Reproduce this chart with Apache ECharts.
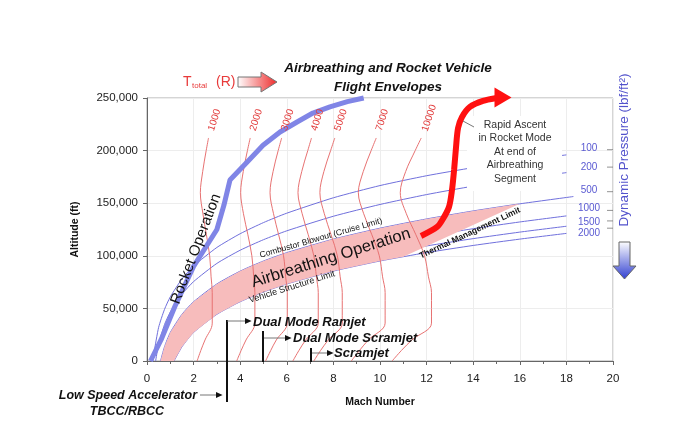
<!DOCTYPE html>
<html><head><meta charset="utf-8">
<script src="https://cdn.jsdelivr.net/npm/echarts@6/dist/echarts.min.js"></script>
<style>html,body{margin:0;padding:0;background:#fff}#c{width:695px;height:433px}</style>
</head><body><div id="c"></div>
<script>
// ---------------- DATA ----------------
// Dynamic pressure lines (lbf/ft^2): [Mach, altitude ft]
const qLabels = ['100','200','500','1000','1500','2000'];
const q100  = [[0.26,0],[0.3,7720],[0.5,32060],[0.75,49020],[1,61000],[1.5,77960],[2,90260],[3,107940],[4,121000],[5,131590],[6,140520],[8,155160],[10,166760],[12,176110],[14,183820],[16,190320],[18,195930]];
const q200  = [[0.37,0],[0.5,16080],[0.75,34570],[1,46570],[1.5,63450],[2,75490],[3,92780],[4,105310],[5,115320],[6,123750],[8,137600],[10,148790],[12,158210],[14,166230],[16,173110],[18,179060]];
const q500  = [[0.58,0],[0.75,13470],[1,27140],[1.5,44370],[2,56350],[3,73260],[4,85470],[5,95070],[6,103010],[8,115860],[10,126260],[12,135040],[14,142650],[16,149400],[18.3,156330]];
const q1000 = [[0.82,0],[1,10480],[1.5,29770],[2,41920],[3,58810],[4,70810],[5,80200],[6,87990],[8,100430],[10,110280],[12,118550],[14,125770],[16,132170],[18,137920]];
const q1500 = [[1.01,0],[1.5,20490],[2,33440],[3,50370],[4,62340],[5,71640],[6,79330],[8,91630],[10,101320],[12,109370],[14,116320],[16,122520],[18,128090]];
const q2000 = [[1.16,0],[1.5,13460],[2,27140],[3,44370],[4,56350],[5,65630],[6,73260],[8,85470],[10,95070],[12,103010],[14,109840],[16,115860],[18,121300]];
// altitude where each q line meets Mach 20 (right-axis ticks)
const qEdgeAlt = [200860,184310,160950,143150,133160,126260];
// thermal management limit (closes the airbreathing corridor)
const thermalLimit = [[16,149400],[11,99100]];

// Total temperature isotherms (R): Mach at common altitudes
const isoLabels = ['1000','2000','3000','4000','5000','7000','10000'];
const isoAlt  = [0,10000,20000,36000,65000,80000,100000,120000,140000,160000,180000,200000,212000];
const iso1000 = [2.15,2.31,2.49,2.80,2.80,2.75,2.69,2.55,2.40,2.29,2.39,2.54,2.64];
const iso2000 = [3.85,4.04,4.25,4.63,4.63,4.58,4.50,4.33,4.14,4.02,4.13,4.31,4.43];
const iso3000 = [5.09,5.31,5.55,6.02,6.02,5.95,5.86,5.65,5.43,5.28,5.41,5.63,5.78];
const iso4000 = [6.26,6.52,6.81,7.35,7.35,7.27,7.16,6.92,6.66,6.48,6.64,6.90,7.06];
const iso5000 = [7.16,7.45,7.78,8.38,8.38,8.29,8.17,7.90,7.61,7.42,7.59,7.88,8.06];
const iso7000 = [8.77,9.12,9.50,10.22,10.22,10.11,9.97,9.65,9.30,9.07,9.28,9.62,9.84];
const iso10000= [10.52,10.92,11.37,12.21,12.21,12.08,11.91,11.54,11.13,10.87,11.10,11.51,11.77];

// Rocket operation boundary
const rocketMach = [0.15,0.6,1.2,2.0,3.0,3.3,3.56,4.29,4.98,5.71,6.44,7.12,7.85,8.6,9.3];
const rocketAlt  = [0,20000,52000,90000,125000,148000,172000,189000,205000,217700,227200,235700,241500,246500,250000];

// Rapid ascent path (red arrow)
const ascentMach = [11.76,12.45,12.70,12.96,13.09,13.18,13.26,13.35,13.52,13.86,14.42,15.02,15.28];
const ascentAlt  = [118800,127400,135000,146400,162600,181600,202500,221500,232000,241500,247200,250000,250500];

// ---------------- CHART ----------------
const FF = '"Liberation Sans", Arial, sans-serif';
const chart = echarts.init(document.getElementById('c'), null, {renderer:'canvas'});
const fmt = v => String(v).replace(/\B(?=(\d{3})+(?!\d))/g, ',');
const zip = (xs, ys) => xs.map((x,i)=>[x, ys[i]]);

const qSets = [q100,q200,q500,q1000,q1500,q2000];
const isoSets = [iso1000,iso2000,iso3000,iso4000,iso5000,iso7000,iso10000];

const bandPoly = q500.filter(p=>p[0]<=16).concat(thermalLimit, q2000.filter(p=>p[0]<11).reverse());

const series = [];
qSets.forEach((d,i)=>series.push({
  type:'line', name:'q'+qLabels[i], data:d, smooth:0.2, showSymbol:false, silent:true,
  lineStyle:{color:'#7070dc', width:1}, z:1
}));
series.push({
  type:'custom', name:'band', data:[[0,0]], z:2, silent:true,
  renderItem:(params, api)=>({type:'polygon', shape:{points: bandPoly.map(p=>api.coord(p))}, style:{fill:'#f7bcbc'}})
});
isoSets.forEach((m,i)=>series.push({
  type:'line', name:'T'+isoLabels[i], data:zip(m, isoAlt), smooth:0.35, showSymbol:false, silent:true,
  lineStyle:{color:'#e77272', width:1}, z:3
}));
series.push({
  type:'line', name:'rocket', data:zip(rocketMach, rocketAlt), showSymbol:false, clip:false, silent:true,
  lineStyle:{color:'#8085e6', width:5}, z:4
});
const ascentData = zip(ascentMach, ascentAlt).map((p,i,a)=> i===a.length-1 ? {value:p, symbol:'triangle', symbolSize:[20,17], symbolRotate:-90, itemStyle:{color:'#ff1010'}} : {value:p});
series.push({
  type:'line', name:'ascent', data:ascentData, smooth:0.3, symbol:'none', showSymbol:true, showAllSymbol:true, clip:false, silent:true,
  lineStyle:{color:'#ff1010', width:6}, z:5
});
series.push({
  type:'scatter', name:'qTicks', data:qEdgeAlt.map(a=>[20,a]), symbol:'rect', symbolSize:[6,1], symbolOffset:[-3,0],
  itemStyle:{color:'#777'}, clip:false, silent:true, z:6
});

chart.setOption({
  animation:false,
  backgroundColor:'#fff',
  textStyle:{fontFamily:FF},
  grid:{left:147, right:82, top:98, bottom:72, show:true, borderColor:'#aaa', borderWidth:1, backgroundColor:'transparent'},
  xAxis:{type:'value', min:0, max:20, interval:2,
    axisLine:{lineStyle:{color:'#666'}}, axisTick:{show:true, length:4, lineStyle:{color:'#666'}},
    minorTick:{show:true, splitNumber:2, length:3, lineStyle:{color:'#666'}},
    splitLine:{show:true, lineStyle:{color:'#ededed'}},
    axisLabel:{color:'#222', fontSize:11.5, margin:12, fontFamily:FF},
    name:'Mach Number', nameLocation:'middle', nameGap:36,
    nameTextStyle:{fontWeight:'bold', fontSize:10.5, color:'#111', fontFamily:FF}},
  yAxis:{type:'value', min:0, max:250000, interval:50000,
    axisLine:{show:true, lineStyle:{color:'#666'}}, axisTick:{show:true, length:4, lineStyle:{color:'#666'}},
    splitLine:{show:true, lineStyle:{color:'#ededed'}},
    axisLabel:{color:'#222', fontSize:11.5, margin:9, formatter:fmt, fontFamily:FF},
    name:'Altitude (ft)', nameLocation:'middle', nameGap:66, nameRotate:90,
    nameTextStyle:{fontWeight:'bold', fontSize:10.5, color:'#111', fontFamily:FF}},
  series
});

// ---------------- ANNOTATIONS ----------------
const G = [];
const txt = (x,y,text,font,fill,opt={}) => G.push({type:'text', x, y, z:100, rotation:opt.rot||0,
  style:{text, font, fill, align:opt.align||'center', verticalAlign:'middle', textAlign:opt.align||'center', textVerticalAlign:'middle'}});
const line = (x1,y1,x2,y2,color,w) => G.push({type:'line', z:100, shape:{x1,y1,x2,y2}, style:{stroke:color, lineWidth:w}});
const head = (x,y,s) => G.push({type:'polygon', z:100, shape:{points:[[x,y-s/2],[x+s*1.1,y],[x,y+s/2]]}, style:{fill:'#111'}});
const deg = d => d*Math.PI/180;

// title
txt(388,68,'Airbreathing and Rocket Vehicle','italic bold 13.5px '+FF,'#111');
txt(388,87,'Flight Envelopes','italic bold 13.5px '+FF,'#111');
// T_total (R)
txt(183,82,'T','14px '+FF,'#e83a3a',{align:'left'});
txt(192,86,'total','8px '+FF,'#e83a3a',{align:'left'});
txt(216,82,'(R)','14px '+FF,'#e83a3a',{align:'left'});
G.push({type:'polygon', z:100, shape:{points:[[238,77],[261,77],[261,72],[277,82],[261,92],[261,87],[238,87]]},
  style:{stroke:'#777', lineWidth:1, fill:new echarts.graphic.LinearGradient(0,0,1,0,[{offset:0,color:'#ffffff'},{offset:1,color:'#ee2a2a'}])}});

// dynamic pressure axis
txt(624,150,'Dynamic Pressure (lbf/ft\u00B2)','13.5px '+FF,'#5252cc',{rot:deg(90)});
G.push({type:'polygon', z:100, shape:{points:[[619,242],[630,242],[630,266],[636,266],[624.5,279],[613,266],[619,266]]},
  style:{stroke:'#666', lineWidth:1, fill:new echarts.graphic.LinearGradient(0,0,0,1,[{offset:0,color:'#ffffff'},{offset:1,color:'#2f3ed0'}])}});
const qLabelY = [148,167,190,208,222,233];
qLabels.forEach((t,i)=>txt(589,qLabelY[i],t,'10px '+FF,'#5a5ad2'));

// Rapid ascent box
G.push({type:'rect', z:99, shape:{x:467,y:116,width:95,height:75}, style:{fill:'#fff'}});
['Rapid Ascent','in Rocket Mode','At end of','Airbreathing','Segment'].forEach((t,i)=>txt(515,125+i*13.5,t,'10.5px '+FF,'#333'));
line(474,127,463,121,'#777',1);

// region labels
txt(196,249,'Rocket Operation','15px '+FF,'#111',{rot:deg(69)});
txt(331,258,'Airbreathing Operation','16.5px '+FF,'#111',{rot:deg(17.5)});
txt(321,238,'Combustor Blowout (Cruise Limit)','8.5px '+FF,'#111',{rot:deg(16)});
txt(292,287,'Vehicle Structure Limit','9px '+FF,'#111',{rot:deg(17.5)});
txt(470,233,'Thermal Management Limit','bold 8.5px '+FF,'#111',{rot:deg(25)});

// propulsion mode annotations
line(227,320,227,402,'#111',2);
line(263,331,263,362,'#111',2);
line(311,348,311,362,'#111',2);
line(227,321,245,321,'#777',1); head(245,321,6);
line(264,338,285,338,'#777',1); head(285,338,6);
line(312,353,327,353,'#777',1); head(327,353,6);
line(200,395,216,395,'#777',1); head(216,395,6);
txt(253,322,'Dual Mode Ramjet','italic bold 13px '+FF,'#111',{align:'left'});
txt(293,338,'Dual Mode Scramjet','italic bold 13px '+FF,'#111',{align:'left'});
txt(334,353,'Scramjet','italic bold 13px '+FF,'#111',{align:'left'});
txt(197,396,'Low Speed Accelerator','italic bold 12.5px '+FF,'#111',{align:'right'});
txt(127,412,'TBCC/RBCC','italic bold 12.5px '+FF,'#111');

// isotherm labels anchored to the top of each isotherm
isoSets.forEach((m,i)=>{
  const p = chart.convertToPixel({gridIndex:0}, [m[m.length-1], isoAlt[isoAlt.length-1]]);
  const extra = isoLabels[i].length>4 ? 2 : 0;
  txt(p[0]+6+extra, p[1]-18-extra, isoLabels[i], '10px '+FF, '#e23c3c', {rot:deg(72)});
});

chart.setOption({graphic:G});
</script></body></html>
